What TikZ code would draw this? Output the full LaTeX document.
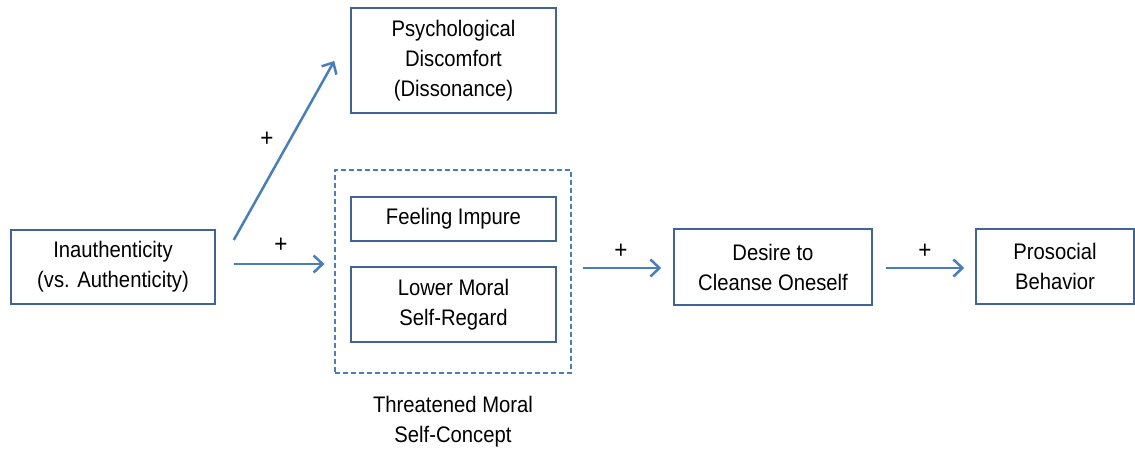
\documentclass[tikz,border=0pt]{standalone}
\usepackage{fontspec}
\setmainfont{Liberation Sans}[FakeStretch=0.9]
\usetikzlibrary{arrows.meta,calc}
\definecolor{boxblue}{RGB}{65,100,150}
\definecolor{arrblue}{RGB}{74,126,187}
\begin{document}
\begin{tikzpicture}[x=1pt,y=-1pt,
  every node/.style={font=\fontsize{22.5}{30}\selectfont, align=center, inner sep=0pt},
  box/.style={draw=boxblue, line width=1.5pt, rectangle},
  grpbox/.style={draw=arrblue, line width=1.1pt, dash pattern=on 5pt off 3pt},
  arr/.style={draw=arrblue, line width=2.5pt, -{Straight Barb[length=9pt,width=17pt,line width=2.5pt]}},
  plus/.style={font=\fontsize{25}{30}\selectfont}]
\useasboundingbox (0,0) rectangle (1135,448);
\node[box, minimum width=204pt, minimum height=74pt] (inauth) at (113,267) {Inauthenticity\\(vs. Authenticity)};
\node[box, minimum width=205pt, minimum height=105pt] (psych) at (453.5,60.5) {Psychological\\Discomfort\\(Dissonance)};
\node[grpbox, minimum width=236pt, minimum height=203pt] (grp) at (453,271.5) {};
\node[box, minimum width=205pt, minimum height=44pt] (feel) at (453.5,219) {Feeling Impure};
\node[box, minimum width=205pt, minimum height=75pt] (lower) at (453.5,304.5) {Lower Moral\\Self-Regard};
\node (threat) at (453,422) {Threatened Moral\\Self-Concept};
\node[box, minimum width=198pt, minimum height=76pt] (desire) at (773,267) {Desire to\\Cleanse Oneself};
\node[box, minimum width=158pt, minimum height=75pt] (pro) at (1055,266.5) {Prosocial\\Behavior};
\draw[arr] ($(inauth.east)+(18,-3)$) -- ($(grp.west)+(-10,-7.5)$);
\draw[arr] ($(inauth.east)+(18,-27)$) -- ($(psych.west)+(-16,0.5)$);
\draw[arr] ($(grp.east)+(11,-3.5)$) -- ($(desire.west)+(-12,1)$);
\draw[arr] ($(desire.east)+(13,1)$) -- ($(pro.west)+(-11,1.5)$);
\node[plus] (p1) at (281,245) {+};
\node[plus] (p2) at (267,139) {+};
\node[plus] (p3) at (621,251) {+};
\node[plus] (p4) at (925,251) {+};
\end{tikzpicture}
\end{document}
